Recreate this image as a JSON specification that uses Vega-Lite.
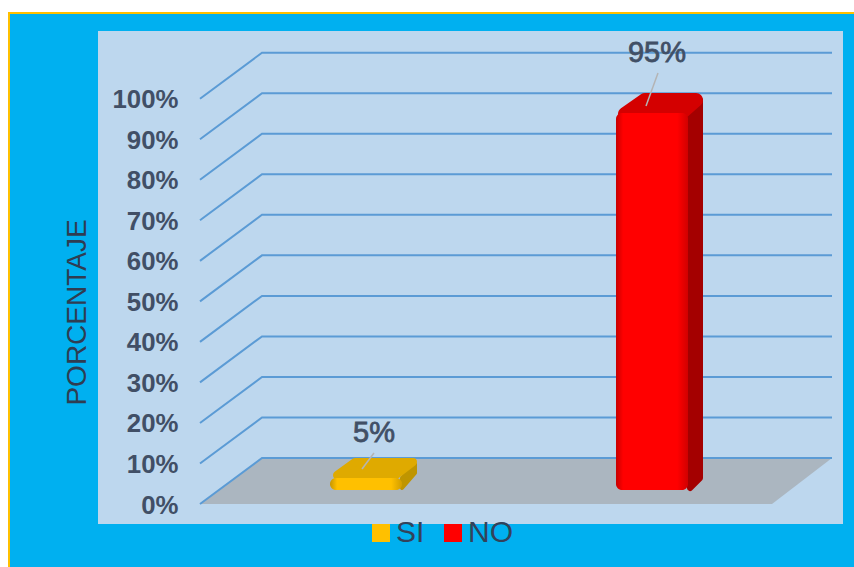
{
"$schema":"https://vega.github.io/schema/vega-lite/v6.json",
"width":854,"height":567,"padding":0,"autosize":{"type":"none"},
"background":"#FFFFFF",
"view":{"stroke":null},
"config":{"font":"Liberation Sans"},
"encoding":{
 "x":{"field":"x","type":"quantitative","scale":{"domain":[0,854]},"axis":null},
 "y":{"field":"y","type":"quantitative","scale":{"domain":[-15.54,124.35],"nice":false,"zero":false},
  "axis":{"title":"PORCENTAJE","values":[0,10,20,30,40,50,60,70,80,90,100],"labelExpr":"datum.value+'%'","domain":false,"ticks":false,"grid":false,"zindex":1,"labelPadding":-178,"labelAlign":"right","labelOffset":1,"labelFontSize":25.8,"labelFontWeight":"bold","labelColor":"#414F66","labelBound":false,"labelOverlap":false,"titleFontSize":28,"titleFontWeight":"normal","titleColor":"#2F3D52","titleX":77,"titleY":312,"titleAngle":-90,"titleAlign":"center","titleBaseline":"middle"}}
},
"layer":[
 {"data":{"values":[{"x":9,"x2":880,"y":121.15,"y2":-30}]},
  "mark":{"type":"rect","fill":"#00B0F0","stroke":"#FFC000","strokeWidth":2,"clip":true},
  "encoding":{"x2":{"field":"x2"},"y2":{"field":"y2"}}},
 {"data":{"values":[{"x":98,"x2":843,"y":116.7,"y2":-4.93}]},
  "mark":{"type":"rect","fill":"#BDD7EE"},
  "encoding":{"x2":{"field":"x2"},"y2":{"field":"y2"}}},
 {"data":{"values":[{"x":200,"y":0,"y2":0},{"x":262,"y":11.35,"y2":0},{"x":772,"y":11.35,"y2":0},{"x":832,"y":11.35,"y2":11.35}]},
  "mark":{"type":"area","fill":"#ABB6C0"},
  "encoding":{"y2":{"field":"y2"}}},
 {"data":{"values":[
  {"nivel":0,"x":200,"y":0},{"nivel":0,"x":262,"y":11.35},{"nivel":0,"x":832,"y":11.35},
  {"nivel":10,"x":200,"y":10},{"nivel":10,"x":262,"y":21.35},{"nivel":10,"x":832,"y":21.35},
  {"nivel":20,"x":200,"y":20},{"nivel":20,"x":262,"y":31.35},{"nivel":20,"x":832,"y":31.35},
  {"nivel":30,"x":200,"y":30},{"nivel":30,"x":262,"y":41.35},{"nivel":30,"x":832,"y":41.35},
  {"nivel":40,"x":200,"y":40},{"nivel":40,"x":262,"y":51.35},{"nivel":40,"x":832,"y":51.35},
  {"nivel":50,"x":200,"y":50},{"nivel":50,"x":262,"y":61.35},{"nivel":50,"x":832,"y":61.35},
  {"nivel":60,"x":200,"y":60},{"nivel":60,"x":262,"y":71.35},{"nivel":60,"x":832,"y":71.35},
  {"nivel":70,"x":200,"y":70},{"nivel":70,"x":262,"y":81.35},{"nivel":70,"x":832,"y":81.35},
  {"nivel":80,"x":200,"y":80},{"nivel":80,"x":262,"y":91.35},{"nivel":80,"x":832,"y":91.35},
  {"nivel":90,"x":200,"y":90},{"nivel":90,"x":262,"y":101.35},{"nivel":90,"x":832,"y":101.35},
  {"nivel":100,"x":200,"y":100},{"nivel":100,"x":262,"y":111.35},{"nivel":100,"x":832,"y":111.35}
 ]},
  "mark":{"type":"line","color":"#5B9BD5","strokeWidth":2},
  "encoding":{"detail":{"field":"nivel"}}},
 {"data":{"values":[{"x":402,"y":6.42,"y2":3.95},{"x":415,"y":9.87,"y2":7.65}]},
  "mark":{"type":"area","fill":"#BF9500","stroke":"#BF9500","strokeWidth":4,"strokeJoin":"round"},
  "encoding":{"y2":{"field":"y2"}}},
 {"data":{"values":[{"x":337,"y":7.16,"y2":7.16},{"x":355,"y":10.36,"y2":7.16},{"x":396,"y":10.36,"y2":7.16},{"x":413,"y":10.36,"y2":10.36}]},
  "mark":{"type":"area","fill":"#DFAA00","stroke":"#DFAA00","strokeWidth":8,"strokeJoin":"round"},
  "encoding":{"y2":{"field":"y2"}}},
 {"data":{"values":[{"x":690,"y":97.21,"y2":3.95},{"x":700,"y":99.68,"y2":6.41}]},
  "mark":{"type":"area","fill":"#A40000","stroke":"#A40000","strokeWidth":6,"strokeJoin":"round"},
  "encoding":{"y2":{"field":"y2"}}},
 {"data":{"values":[{"x":625,"y":96.22,"y2":96.22},{"x":645,"y":99.68,"y2":96.22},{"x":680,"y":99.68,"y2":96.22},{"x":696,"y":99.68,"y2":99.68}]},
  "mark":{"type":"area","fill":"#D40000","stroke":"#D40000","strokeWidth":14,"strokeJoin":"round"},
  "encoding":{"y2":{"field":"y2"}}},
 {"data":{"name":"frentes","values":[{"respuesta":"SI","x":330,"x2":402,"y":6.42,"y2":3.45},{"respuesta":"NO","x":616,"x2":688,"y":96.47,"y2":3.45}]},
  "mark":{"type":"rect","cornerRadius":6},
  "encoding":{"x2":{"field":"x2"},"y2":{"field":"y2"},
   "color":{"field":"respuesta","type":"nominal","scale":{"domain":["SI","NO"],"range":["#FFC000","#FF0000"]},
    "legend":{"title":null,"orient":"none","legendX":366,"legendY":518,"direction":"horizontal","symbolType":"square","symbolSize":324,"symbolStrokeWidth":0,"labelFontSize":30,"labelColor":"#33425A","labelOffset":0,"columnPadding":13,"padding":0}}}},
 {"data":{"name":"frentes"},
  "mark":{"type":"rect","cornerRadius":6,"fill":{"gradient":"linear","x1":0,"x2":1,"y1":0,"y2":0,"stops":[{"offset":0,"color":"rgba(0,0,0,0.22)"},{"offset":0.1,"color":"rgba(0,0,0,0)"},{"offset":0.85,"color":"rgba(0,0,0,0)"},{"offset":1,"color":"rgba(0,0,0,0.18)"}]}},
  "encoding":{"x2":{"field":"x2"},"y2":{"field":"y2"}}},
 {"data":{"values":[{"etiqueta":"SI","x":374,"y":12.58},{"etiqueta":"SI","x":362,"y":8.64},{"etiqueta":"NO","x":658,"y":106.34},{"etiqueta":"NO","x":646,"y":98.2}]},
  "mark":{"type":"line","color":"#B4B4B4","strokeWidth":1.5},
  "encoding":{"detail":{"field":"etiqueta"}}},
 {"data":{"values":[{"x":374,"y":17.52,"valor":"5%"},{"x":657,"y":111.27,"valor":"95%"}]},
  "mark":{"type":"text","fontSize":29,"align":"center","baseline":"middle","fill":"#414F66","stroke":"#414F66","strokeWidth":0.8},
  "encoding":{"text":{"field":"valor"}}}
]
}
